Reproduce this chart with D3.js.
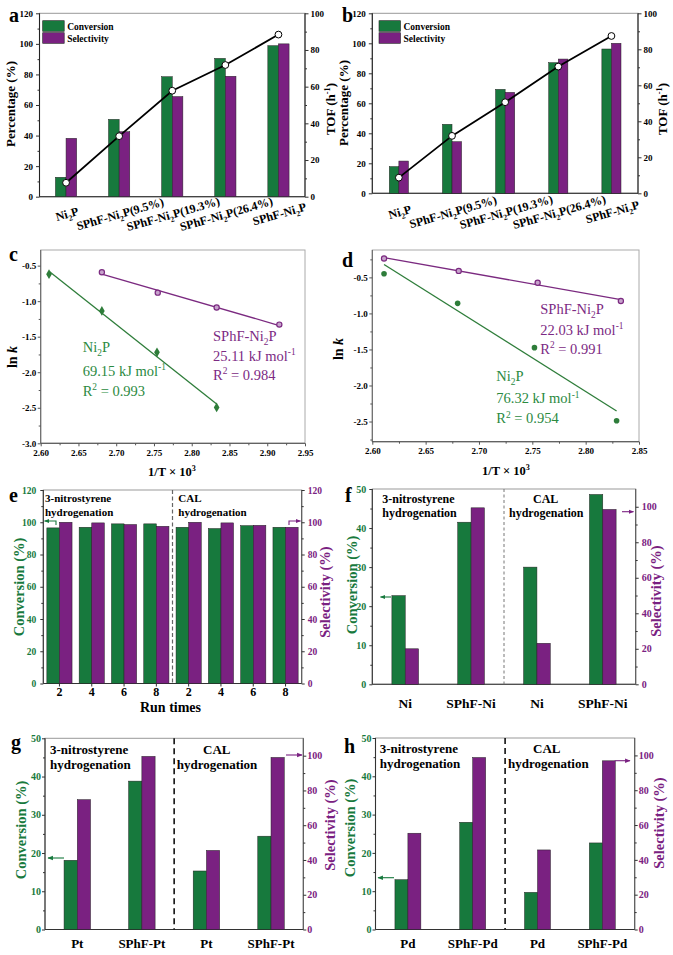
<!DOCTYPE html>
<html><head><meta charset="utf-8">
<script src="https://cdn.jsdelivr.net/npm/d3@7"></script>
<style>body{margin:0;background:#fff}svg{display:block}</style>
</head><body><svg id="c" width="673" height="955"></svg>
<script>
// ---------------- DATA ----------------
const catsAB = ["Ni_{2}P","SPhF-Ni_{2}P(9.5%)","SPhF-Ni_{2}P(19.3%)","SPhF-Ni_{2}P(26.4%)","SPhF-Ni_{2}P"];
const convA = [12.7, 50.6, 78.5, 90.5, 98.8];
const selA  = [38.2, 42.5, 65.5, 78.8, 100];
const tofA  = [7.6, 33.0, 57.8, 71.8, 88.4];
const convB = [17.8, 46.0, 69.3, 87.1, 96.2];
const selB  = [21.5, 34.4, 67.3, 89.5, 100];
const tofB  = [8.7, 31.9, 50.6, 70.4, 87.4];

const cNiX = [2.611, 2.681, 2.754, 2.833];
const cNiY = [-0.62, -1.137, -1.72, -2.495];
const cSpX = [2.681, 2.755, 2.833, 2.916];
const cSpY = [-0.594, -0.88, -1.09, -1.33];
const dNiX = [2.611, 2.680, 2.752, 2.829];
const dNiY = [-0.449, -0.86, -1.475, -2.49];
const dSpX = [2.611, 2.681, 2.755, 2.833];
const dSpY = [-0.237, -0.41, -0.574, -0.828];

const catsE = ["2","4","6","8","2","4","6","8"];
const convE = [96.5, 96.9, 99, 99, 96.9, 96.1, 97.9, 96.9];
const selE  = [100, 99.6, 98.6, 97.5, 100, 99.6, 98.1, 96.9];

const catsF = ["Ni","SPhF-Ni","Ni","SPhF-Ni"];
const convF = [22.7, 41.5, 30.0, 48.6];
const selF  = [20.0, 99.4, 23.1, 98.5];
const catsG = ["Pt","SPhF-Pt","Pt","SPhF-Pt"];
const convG = [18.1, 38.8, 15.3, 24.4];
const selG  = [74.7, 99.6, 45.5, 99.0];
const catsH = ["Pd","SPhF-Pd","Pd","SPhF-Pd"];
const convH = [13.0, 28.0, 9.7, 22.6];
const selH  = [55.3, 98.8, 45.7, 96.9];

const ticksPct = [0,20,40,60,80,100,120];
const ticksTOF = [0,20,40,60,80,100];
const ticksCx = [2.60,2.65,2.70,2.75,2.80,2.85,2.90,2.95];
const ticksCy = [-3.0,-2.5,-2.0,-1.5,-1.0,-0.5];
const ticksDx = [2.60,2.65,2.70,2.75,2.80,2.85];
const ticksDy = [-2.5,-2.0,-1.5,-1.0,-0.5];
const ticksConv50 = [0,10,20,30,40,50];
const ticksSel100 = [0,20,40,60,80,100];

// ---------------- STYLE ----------------
const SERIF = "'Liberation Serif','Times New Roman',Times,serif";
const GREEN = "#17793d", PURPLE = "#7a2181";
const GREEN_T = "#2b8a3f", PURPLE_T = "#7c2a83";
const svg = d3.select("#c");

const defs = svg.append("defs");
[["ag",GREEN],["ap",PURPLE]].forEach(([id,c])=>{
  defs.append("marker").attr("id",id).attr("viewBox","0 0 10 10").attr("refX",9).attr("refY",5)
    .attr("markerWidth",5).attr("markerHeight",5).attr("orient","auto")
    .append("path").attr("d","M0,1L10,5L0,9z").attr("fill",c);
});

function rich(t, str, fs){
  const parts = str.split(/(_\{[^}]*\}|\^\{[^}]*\})/).filter(s=>s.length);
  let cur = 0;
  parts.forEach(p=>{
    let s = p, off = 0, size = fs;
    if (p[0]==="_" && p[1]==="{") { s = p.slice(2,-1); off = 0.28*fs; size = 0.65*fs; }
    else if (p[0]==="^" && p[1]==="{") { s = p.slice(2,-1); off = -0.4*fs; size = 0.65*fs; }
    t.append("tspan").attr("dy", off-cur).attr("font-size", size).text(s);
    cur = off;
  });
}
function txt(x, y, str, o={}){
  const fs = o.fs || 12;
  const t = svg.append("text").attr("font-family",SERIF).attr("font-size",fs)
    .attr("font-weight",o.w||"bold").attr("fill",o.fill||"#000").attr("text-anchor",o.anchor||"start");
  if (o.rot!=null) t.attr("transform",`translate(${x},${y}) rotate(${o.rot})`).attr("x",0).attr("y",o.dy||0);
  else t.attr("x",x).attr("y",y);
  rich(t, str, fs);
  return t;
}
function axis(scale, orient, pos, vals, o={}){
  const f = orient==="left"?d3.axisLeft:orient==="right"?d3.axisRight:d3.axisBottom;
  const tr = orient==="bottom"?`translate(0,${pos})`:`translate(${pos},0)`;
  const a = f(scale).tickValues(vals).tickSize(o.len??3.5).tickPadding(o.pad??2).tickFormat(o.fmt||(d=>d));
  const g = svg.append("g").attr("transform",tr).call(a);
  g.attr("font-family",SERIF).attr("font-size",o.fs||9).attr("font-weight","bold");
  g.select(".domain").remove();
  g.selectAll(".tick line").attr("stroke",o.tc||"#333");
  g.selectAll(".tick text").attr("fill",o.color||"#000");
  if (o.minor){
    const m = f(scale).tickValues(o.minor).tickSize(o.mlen??2).tickFormat("");
    const g2 = svg.append("g").attr("transform",tr).call(m);
    g2.select(".domain").remove();
    g2.selectAll("line").attr("stroke",o.tc||"#333");
  }
  return g;
}
function frame(L,R,T,B,o={}){
  svg.append("rect").attr("x",L).attr("y",T).attr("width",R-L).attr("height",B-T)
    .attr("fill","none").attr("stroke",o.frame||"#999").attr("stroke-width",1);
  const ln=(x1,y1,x2,y2,c)=>svg.append("line").attr("x1",x1).attr("y1",y1).attr("x2",x2).attr("y2",y2).attr("stroke",c).attr("stroke-width",1.1);
  ln(L,T,L,B,o.left||"#333");
  ln(L,B,R,B,o.bottom||"#333");
  if (o.right) ln(R,T,R,B,o.right);
}
function arrow(pts, color, id){
  svg.append("path").attr("d", d3.line()(pts)).attr("fill","none").attr("stroke",color)
    .attr("stroke-width",1.1).attr("marker-end",`url(#${id})`);
}
function linreg(xs, ys){
  const mx=d3.mean(xs), my=d3.mean(ys);
  const s=d3.sum(xs,(x,i)=>(x-mx)*(ys[i]-my))/d3.sum(xs,x=>(x-mx)*(x-mx));
  return x=>my+s*(x-mx);
}
const odd = (a,b,s)=>d3.range(a,b+1e-9,s);

// ---------------- PANELS a / b ----------------
function panelAB(p){
  const {L,R,T,B} = p;
  const x = d3.scaleBand().domain(d3.range(catsAB.length)).range([L,R]).paddingInner(p.pi).paddingOuter(p.pi/2);
  const sub = d3.scaleBand().domain([0,1]).range([0,x.bandwidth()]);
  const yL = d3.scaleLinear([0,120],[B,T]);
  const yR = d3.scaleLinear([0,100],[B,T]);
  frame(L,R,T,B,{right:"#222",left:"#222",bottom:"#222"});
  [[p.conv,GREEN,0],[p.sel,PURPLE,1]].forEach(([vals,c,k])=>{
    svg.append("g").selectAll("rect").data(vals).join("rect")
      .attr("x",(d,i)=>x(i)+sub(k)).attr("width",sub.bandwidth())
      .attr("y",d=>yL(d)).attr("height",d=>B-yL(d))
      .attr("fill",c).attr("stroke","#222").attr("stroke-width",0.5);
  });
  const cx = i=>x(i)+x.bandwidth()/2;
  svg.append("path").datum(p.tof).attr("d",d3.line().x((d,i)=>cx(i)).y(d=>yR(d)))
    .attr("fill","none").attr("stroke","#000").attr("stroke-width",1.8);
  svg.append("g").selectAll("circle").data(p.tof).join("circle")
    .attr("cx",(d,i)=>cx(i)).attr("cy",d=>yR(d)).attr("r",3.4)
    .attr("fill","#fff").attr("stroke","#000").attr("stroke-width",1);
  axis(yL,"left",L,ticksPct,{fs:9,len:3.5,pad:3,minor:odd(10,110,20)});
  axis(yR,"right",R,ticksTOF,{fs:9,len:3.5,pad:2,minor:odd(10,90,20)});
  catsAB.forEach((c,i)=>txt(cx(i)+1, p.lblY, c, {fs:12, anchor:"middle", rot:-16, dy:4}));
  // legend
  svg.append("rect").attr("x",p.lgX).attr("y",T+7.4).attr("width",21.5).attr("height",10.6).attr("fill",GREEN).attr("stroke","#222").attr("stroke-width",0.6);
  svg.append("rect").attr("x",p.lgX).attr("y",T+19.4).attr("width",21.5).attr("height",10.6).attr("fill",PURPLE).attr("stroke","#222").attr("stroke-width",0.6);
  txt(p.lgX+24.5, T+16.3, "Conversion", {fs:9.5});
  txt(p.lgX+24.5, T+28.3, "Selectivity", {fs:9.5});
  txt(p.titleX, p.titleY, "Percentage (%)", {fs:13, anchor:"middle", rot:-90});
  txt(p.tofX, p.tofY, "TOF (h^{-1})", {fs:13, anchor:"middle", rot:-90});
  txt(p.labX, 21.7, p.lab, {fs:20});
}
panelAB({L:39.5,R:305,T:13.3,B:196.7,pi:0.6,conv:convA,sel:selA,tof:tofA,lblY:214,lgX:42.7,
  titleX:15,titleY:104,tofX:335,tofY:109,labX:9,lab:"a"});
panelAB({L:372.3,R:638,T:13.3,B:193.3,pi:0.64,conv:convB,sel:selB,tof:tofB,lblY:212,lgX:379,
  titleX:348,titleY:103,tofX:667,tofY:109,labX:342,lab:"b"});

// ---------------- PANELS c / d ----------------
function panelCD(p){
  const {L,R,T,B} = p;
  const x = d3.scaleLinear(p.xd,[L,R]);
  const y = d3.scaleLinear(p.yd,[B,T]);
  frame(L,R,T,B,{frame:"#aaa",left:"#666",bottom:"#444"});
  const fmt1 = d=>d3.format(".1f")(d).replace("\u2212","-");
  axis(y,"left",L,p.yt,{fs:9,len:3,pad:1.5,fmt:fmt1,minor:p.ym,tc:"#555"});
  axis(x,"bottom",B,p.xt,{fs:9,len:3,pad:3,fmt:d3.format(".2f"),minor:p.xm,tc:"#555"});
  p.series.forEach(s=>{
    const f = linreg(s.xs, s.ys);
    const x0 = d3.min(s.xs), x1 = d3.max(s.xs);
    svg.append("line").attr("x1",x(x0)).attr("y1",y(f(x0))).attr("x2",x(x1)).attr("y2",y(f(x1)))
      .attr("stroke",s.color).attr("stroke-width",1.3);
    const g = svg.append("g");
    s.xs.forEach((xv,i)=>{
      if (s.shape==="diamond")
        g.append("path").attr("d",d3.symbol(d3.symbolDiamond,28)()).attr("transform",`translate(${x(xv)},${y(s.ys[i])})`).attr("fill",s.color);
      else if (s.shape==="dot")
        g.append("circle").attr("cx",x(xv)).attr("cy",y(s.ys[i])).attr("r",2.8).attr("fill",s.color);
      else
        g.append("circle").attr("cx",x(xv)).attr("cy",y(s.ys[i])).attr("r",2.6).attr("fill","#c7a3cc").attr("stroke",s.color).attr("stroke-width",1.2);
    });
    s.text.forEach(([str,tx,ty])=>txt(tx,ty,str,{fs:14.5,w:"normal",fill:s.tcol}));
  });
  txt(p.lnX, p.lnY, "ln ", {fs:14, anchor:"middle", rot:-90}).append("tspan").attr("font-style","italic").text("k");
  txt(p.xtX, p.xtY, "1/T × 10^{3}", {fs:12.5, anchor:"middle"});
  txt(p.labX, p.labY, p.lab, {fs:20});
}
panelCD({L:40.7,R:305,T:250,B:443.3,xd:[2.60,2.95],yd:[-3.0,-0.28],xt:ticksCx,yt:ticksCy,
  xm:odd(2.625,2.925,0.05),ym:odd(-2.75,-0.25,0.5).filter(v=>v<-0.28),
  series:[
    {xs:cNiX,ys:cNiY,color:"#2e7d3a",shape:"diamond",tcol:GREEN_T,
     text:[["Ni_{2}P",82.7,352],["69.15 kJ mol^{-1}",82.7,376],["R^{2} = 0.993",82.7,396]]},
    {xs:cSpX,ys:cSpY,color:"#7b2a80",shape:"circle",tcol:PURPLE_T,
     text:[["SPhF-Ni_{2}P",213,340.7],["25.11 kJ mol^{-1}",213,360.7],["R^{2} = 0.984",213,380]]}
  ], lnX:17,lnY:357,xtX:172,xtY:476,labX:9,labY:260.7,lab:"c"});
panelCD({L:372.3,R:639,T:250,B:441.7,xd:[2.60,2.85],yd:[-2.78,-0.12],xt:ticksDx,yt:ticksDy,
  xm:odd(2.625,2.825,0.05),ym:odd(-2.75,-0.25,0.5),
  series:[
    {xs:dSpX,ys:dSpY,color:"#7b2a80",shape:"circle",tcol:PURPLE_T,
     text:[["SPhF-Ni_{2}P",540.3,314],["22.03 kJ mol^{-1}",540.3,335],["R^{2} = 0.991",540.3,354]]},
    {xs:dNiX,ys:dNiY,color:"#2e7d3a",shape:"dot",tcol:GREEN_T,
     text:[["Ni_{2}P",496.3,380.7],["76.32 kJ mol^{-1}",496.3,403.3],["R^{2} = 0.954",496.3,423.3]]}
  ], lnX:343,lnY:349,xtX:506,xtY:475,labX:342,labY:266.7,lab:"d"});

// ---------------- PANELS e-h ----------------
function panelDual(p){
  const {L,R,T,B} = p;
  const x = d3.scaleBand().domain(d3.range(p.cats.length)).range([L,R]).paddingInner(p.pi).paddingOuter(p.pi/2);
  const sub = d3.scaleBand().domain([0,1]).range([0,x.bandwidth()]);
  const yL = d3.scaleLinear(p.ld,[B,T]);
  const yR = d3.scaleLinear(p.rd,[B,T]);
  frame(L,R,T,B,{frame:"#999",left:"#333",bottom:"#333",right:"#555"});
  [[p.conv,GREEN,0,yL],[p.sel,PURPLE,1,yR]].forEach(([vals,c,k,ys])=>{
    svg.append("g").selectAll("rect").data(vals).join("rect")
      .attr("x",(d,i)=>x(i)+sub(k)).attr("width",sub.bandwidth())
      .attr("y",d=>ys(d)).attr("height",d=>B-ys(d))
      .attr("fill",c).attr("stroke","#222").attr("stroke-width",0.5);
  });
  const mid = (L+R)/2;
  svg.append("line").attr("x1",mid).attr("x2",mid).attr("y1",T).attr("y2",B)
    .attr("stroke",p.dash.c).attr("stroke-width",p.dash.w).attr("stroke-dasharray",p.dash.da);
  axis(yL,"left",L,p.lt,{fs:p.tfs,len:3,pad:p.lpad,color:GREEN,minor:p.lm});
  axis(yR,"right",R,p.rt,{fs:p.tfs,len:3,pad:p.rpad,color:PURPLE,minor:p.rm});
  const cx = i=>x(i)+x.bandwidth()/2;
  if (p.xticks){
    svg.append("g").selectAll("line").data(p.cats).join("line")
      .attr("x1",(d,i)=>cx(i)).attr("x2",(d,i)=>cx(i)).attr("y1",B).attr("y2",B+3).attr("stroke","#333");
  }
  p.cats.forEach((c,i)=>txt(cx(i), p.xlY, c, {fs:p.xfs, anchor:"middle"}));
  if (p.xtitle) txt((L+R)/2-2, p.xtitle[1], p.xtitle[0], {fs:14, anchor:"middle"});
  p.notes.forEach(([s,nx,ny])=>txt(nx,ny,s,{fs:p.nfs}));
  txt(p.cT[0], p.cT[1], "Conversion (%)", {fs:14.5, anchor:"middle", rot:-90, fill:GREEN});
  txt(p.sT[0], p.sT[1], "Selectivity (%)", {fs:14.5, anchor:"middle", rot:-90, fill:PURPLE});
  arrow(p.ga, GREEN, "ag");
  arrow(p.pa, PURPLE, "ap");
  txt(p.lab[1], p.lab[2], p.lab[0], {fs:20});
}
panelDual({L:43.3,R:301.7,T:490,B:683.5,cats:catsE,conv:convE,sel:selE,pi:0.22,ld:[0,120],rd:[0,120],
  lt:ticksPct,rt:ticksPct,lm:odd(10,110,20),rm:odd(10,110,20),tfs:9.5,lpad:4,rpad:3,
  dash:{c:"#666",w:1.2,da:"4,2.5"},xticks:true,xlY:696,xfs:12,xtitle:["Run times",711.5],
  notes:[["3-nitrostyrene",45,502],["hydrogenation",45,515.5],["CAL",178.3,502],["hydrogenation",178.3,515.5]],nfs:11,
  cT:[24,587],sT:[330,592],ga:[[56,525],[56,521],[44.5,521]],pa:[[289,525],[289,521],[300.5,521]],lab:["e",9,501.7]});
panelDual({L:372.3,R:635.7,T:489,B:684.3,cats:catsF,conv:convF,sel:selF,pi:0.595,ld:[0,50],rd:[0,110],
  lt:ticksConv50,rt:ticksSel100,lm:odd(5,45,10),rm:odd(10,90,20),tfs:10,lpad:3,rpad:3,
  dash:{c:"#777",w:1,da:"3,2.5"},xticks:false,xlY:708,xfs:13.5,
  notes:[["3-nitrostyrene",382.3,502.5],["hydrogenation",382.3,516.5],["CAL",533,502.5],["hydrogenation",509,516.5]],nfs:12,
  cT:[357,585],sT:[661,591],ga:[[391,597],[380.5,597]],pa:[[622,511.7],[633.5,511.7]],lab:["f",345,502]});
panelDual({L:45,R:303.3,T:738.3,B:929.5,cats:catsG,conv:convG,sel:selG,pi:0.59,ld:[0,50],rd:[0,110],
  lt:ticksConv50,rt:ticksSel100,lm:odd(5,45,10),rm:odd(10,90,20),tfs:10,lpad:1,rpad:1,
  dash:{c:"#111",w:1.6,da:"6,4"},xticks:false,xlY:947.5,xfs:13,
  notes:[["3-nitrostyrene",50,754],["hydrogenation",50,769],["CAL",203,754],["hydrogenation",176.7,769]],nfs:13,
  cT:[26,830],sT:[335,825],ga:[[64,858],[48,858]],pa:[[286,755],[302,755]],lab:["g",11,749]});
panelDual({L:375.5,R:634.7,T:738,B:929.5,cats:catsH,conv:convH,sel:selH,pi:0.6,ld:[0,50],rd:[0,110],
  lt:ticksConv50,rt:ticksSel100,lm:odd(5,45,10),rm:odd(10,90,20),tfs:10,lpad:1,rpad:1,
  dash:{c:"#111",w:1.6,da:"6,4"},xticks:false,xlY:947.5,xfs:13,
  notes:[["3-nitrostyrene",379.7,752.5],["hydrogenation",379.7,768],["CAL",533,752.5],["hydrogenation",508,768]],nfs:13,
  cT:[355,828],sT:[664,823],ga:[[394,877.7],[378,877.7]],pa:[[614.7,760.7],[630,760.7]],lab:["h",344,753]});
</script></body></html>
